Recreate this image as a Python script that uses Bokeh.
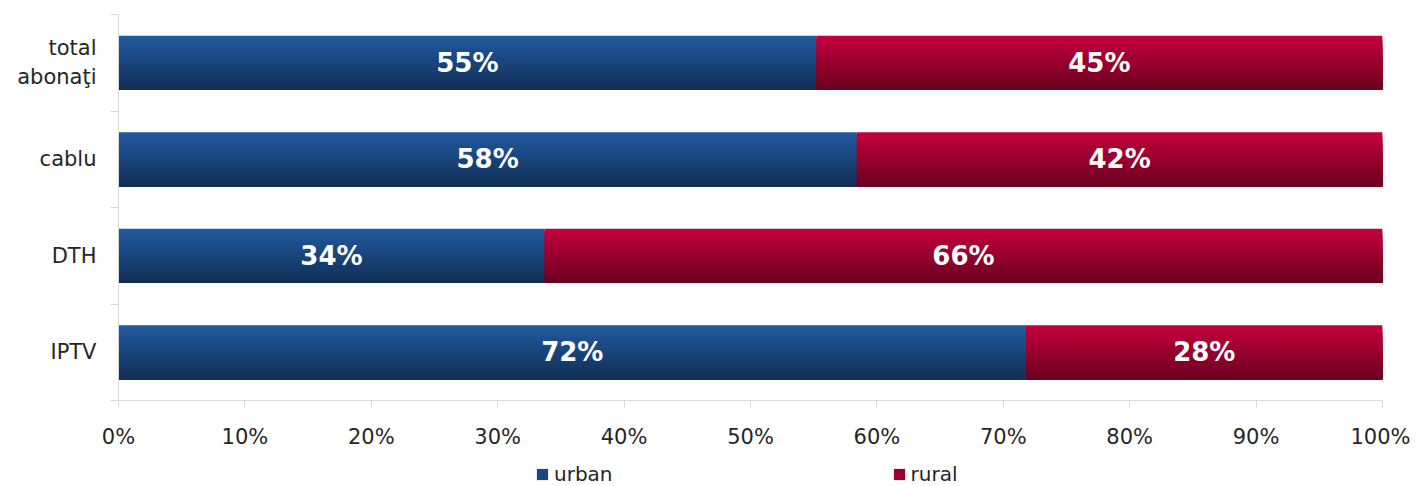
from bokeh.plotting import figure
from bokeh.models import (Range1d, FixedTicker, PrintfTickFormatter, Legend,
                          LegendItem, ColumnDataSource)
from bokeh.layouts import column
from bokeh.transform import dodge
from bokeh.core.properties import value
from bokeh.embed import file_html
from bokeh.resources import INLINE

# ---- data ----
categories = ["total abonaţi", "cablu", "DTH", "IPTV"]
urban = [55.2, 58.4, 33.7, 71.8]
rural = [44.8, 41.6, 66.3, 28.2]
urban_labels = ["55%", "58%", "34%", "72%"]
rural_labels = ["45%", "42%", "66%", "28%"]
series_names = ["urban", "rural"]
x_ticks = [0, 10, 20, 30, 40, 50, 60, 70, 80, 90, 100]

FONT = "DejaVu Sans"
n = len(categories)
ypos = [n - i - 0.5 for i in range(n)]
total = [u + r for u, r in zip(urban, rural)]

src = ColumnDataSource(dict(
    y=ypos,
    urban=urban,
    total=total,
    zero=[0] * n,
    umid=[u / 2 for u in urban],
    rmid=[u + r / 2 for u, r in zip(urban, rural)],
    ulab=urban_labels,
    rlab=rural_labels,
))

p = figure(width=1410, height=452, output_backend="svg", toolbar_location=None,
           x_range=Range1d(0, 100), y_range=Range1d(0, n),
           min_border_left=118, min_border_right=28, min_border_top=14,
           min_border_bottom=52)
p.outline_line_color = None
p.xgrid.grid_line_color = None
p.ygrid.grid_line_color = None


def lerp(c1, c2, t):
    a = [int(c1[i:i + 2], 16) for i in (1, 3, 5)]
    b = [int(c2[i:i + 2], 16) for i in (1, 3, 5)]
    return "#" + "".join("%02x" % round(a[k] + (b[k] - a[k]) * t) for k in range(3))


H = 0.56
N = 24
hs = H / N
blue_top, blue_bot = "#21599e", "#112f58"
red_top, red_bot = "#c2003d", "#6c001f"
for k in range(N):
    t = k / (N - 1)
    off = -k * hs / 2
    hk = H - k * hs
    p.hbar(y=dodge("y", off), left="zero", right="urban", height=hk,
           source=src, fill_color=lerp(blue_top, blue_bot, t), line_color=None)
    p.hbar(y=dodge("y", off), left="urban", right="total", height=hk,
           source=src, fill_color=lerp(red_top, red_bot, t), line_color=None)

# value labels
p.text(x="umid", y="y", text="ulab", source=src, text_align="center",
       text_baseline="middle", text_color="white", text_font_style="bold",
       text_font_size="26px", text_font=value(FONT))
p.text(x="rmid", y="y", text="rlab", source=src, text_align="center",
       text_baseline="middle", text_color="white", text_font_style="bold",
       text_font_size="26px", text_font=value(FONT))

# x axis
xa = p.xaxis[0]
xa.ticker = FixedTicker(ticks=x_ticks)
xa.formatter = PrintfTickFormatter(format="%d%%")
xa.axis_line_color = "#d9d9d9"
xa.major_tick_line_color = "#d9d9d9"
xa.major_tick_out = 8
xa.major_tick_in = 0
xa.minor_tick_line_color = None
xa.major_label_text_font = FONT
xa.major_label_text_font_size = "21px"
xa.major_label_text_color = "#262626"
xa.major_label_standoff = 16

# y axis
ya = p.yaxis[0]
ya.ticker = FixedTicker(ticks=ypos, minor_ticks=list(range(n + 1)))
ya.major_label_overrides = {y: c.replace(" ", "\n") for y, c in zip(ypos, categories)}
ya.axis_line_color = "#d9d9d9"
ya.major_tick_line_color = None
ya.major_tick_out = 8
ya.major_tick_in = 0
ya.minor_tick_line_color = "#d9d9d9"
ya.minor_tick_out = 8
ya.minor_tick_in = 0
ya.major_label_text_font = FONT
ya.major_label_text_font_size = "21px"
ya.major_label_text_color = "#262626"
ya.major_label_standoff = 14

# legend strip (frame aligned with main plot frame by the column layout);
# its bars have zero height and lie outside its visible range, so only the legend shows
lg = figure(width=1410, height=34, output_backend="svg", toolbar_location=None,
            x_range=Range1d(1000, 1001), y_range=Range1d(50, 51),
            min_border_left=0, min_border_right=0,
            min_border_top=0, min_border_bottom=0)
lg.axis.visible = False
lg.grid.visible = False
lg.outline_line_color = None
r_u = lg.hbar(y="y", left="zero", right="urban", height=0, source=src,
              fill_color="#1a4682", line_color=None)
r_r = lg.hbar(y="y", left="urban", right="total", height=0, source=src,
              fill_color="#9c0032", line_color=None)
legend = Legend(items=[LegendItem(label=series_names[0], renderers=[r_u]),
                       LegendItem(label=series_names[1], renderers=[r_r])],
                orientation="horizontal", location=(417, 0),
                label_text_font=FONT, label_text_font_size="20px",
                label_text_color="#262626", glyph_width=14, glyph_height=14,
                spacing=279, border_line_color=None, background_fill_alpha=0,
                padding=0, margin=0, label_standoff=5)
lg.add_layout(legend)

open("out.html", "w").write(file_html(column(p, lg), INLINE))
